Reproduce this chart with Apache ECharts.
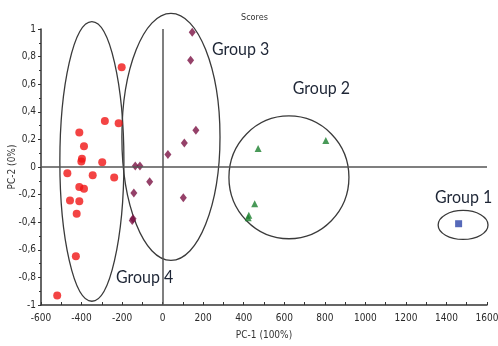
<!DOCTYPE html>
<html>
<head>
<meta charset="utf-8">
<script src="https://cdn.jsdelivr.net/npm/echarts@6/dist/echarts.min.js"></script>
<style>html,body{margin:0;padding:0;background:#fff}#c{width:498px;height:346px}</style>
</head>
<body>
<div id="c"></div>
<script>
// ---- data ----
const xTicks = [-600, -400, -200, 0, 200, 400, 600, 800, 1000, 1200, 1400, 1600];
const yTicks = [-1, -0.8, -0.6, -0.4, -0.2, 0, 0.2, 0.4, 0.6, 0.8, 1];

const group4Points = [
  [-202, 0.722], [-411, 0.25], [-285, 0.334], [-217, 0.317], [-388, 0.15],
  [-401, 0.04], [-398, 0.06], [-298, 0.034], [-470, -0.046], [-345, -0.06], [-239, -0.076],
  [-411, -0.145], [-388, -0.157], [-457, -0.242], [-411, -0.249], [-424, -0.338],
  [-428, -0.646], [-520, -0.932]
];
const group3Points = [
  [146, 0.976], [138, 0.773], [164, 0.267], [107, 0.174], [26, 0.09],
  [-135, 0.007], [-112, 0.007], [-64, -0.106], [-142, -0.189], [102, -0.222],
  [-150, -0.387], [-146, -0.375]
];
const group2Points = [[471, 0.134], [805, 0.192], [454, -0.266], [422, -0.367], [425, -0.35]];
const group1Points = [[1460, -0.411]];

const groupNames = ['Group 1', 'Group 2', 'Group 3', 'Group 4'];
const ellipseCenters = [[1482, -0.42], [623, -0.075], [41, 0.218], [-349, 0.04]];
const ellipseRadii = [[123, 0.105], [296, 0.445], [242, 0.895], [158, 1.013]];
const labelAnchors = [[1343, -0.22], [642, 0.571], [243, 0.85], [-230, -0.80]];

// ---- chart ----
const chart = echarts.init(document.getElementById('c'));
const tickFont = '"DejaVu Sans Condensed", "Liberation Sans Narrow", sans-serif';
const ellipseData = ellipseCenters.map((c, i) => [c[0], c[1], ellipseRadii[i][0], ellipseRadii[i][1]]);
const labelData = labelAnchors.map((p, i) => [p[0], p[1], i]);

chart.setOption({
  animation: false,
  backgroundColor: '#fff',
  title: {
    text: 'Scores', left: 236, top: 8,
    textStyle: { fontSize: 9, fontWeight: 'normal', color: '#333', fontFamily: tickFont }
  },
  grid: { left: 41, right: 11, top: 29, bottom: 41, containLabel: false, outerBoundsMode: 'none' },
  xAxis: {
    type: 'value', min: -600, max: 1600, interval: 200,
    name: 'PC-1 (100%)', nameLocation: 'middle', nameGap: 25, nameMoveOverlap: false,
    nameTextStyle: { fontSize: 10, color: '#333', fontFamily: tickFont },
    axisLine: { onZero: false, lineStyle: { color: '#333', width: 1.5 } },
    axisTick: { show: true, inside: true, length: 3, lineStyle: { color: '#333' } },
    minorTick: { show: true, splitNumber: 2, length: 3, lineStyle: { color: '#333' } },
    splitLine: { show: false },
    axisLabel: {
      fontSize: 10, color: '#2a2a2a', fontFamily: tickFont, margin: 8,
      formatter: v => String(v)
    }
  },
  yAxis: {
    type: 'value', min: -1, max: 1, interval: 0.2,
    name: 'PC-2 (0%)', nameLocation: 'middle', nameGap: 24, nameMoveOverlap: false,
    nameTextStyle: { fontSize: 10, color: '#333', fontFamily: tickFont },
    axisLine: { show: true, onZero: false, lineStyle: { color: '#333', width: 1.5 } },
    axisTick: { show: true, length: 3, lineStyle: { color: '#333' } },
    minorTick: { show: true, splitNumber: 2, length: 2, lineStyle: { color: '#333' } },
    splitLine: { show: false },
    axisLabel: {
      fontSize: 10, color: '#2a2a2a', fontFamily: tickFont, margin: 5,
      formatter: v => String(Math.round(v * 10) / 10).replace('.', ',')
    }
  },
  series: [
    {
      type: 'custom', name: 'ellipses', silent: true, clip: false, z: 1,
      encode: { x: 0, y: 1 },
      data: ellipseData,
      renderItem: (params, api) => {
        const c = api.coord([api.value(0), api.value(1)]);
        const s = api.size([api.value(2), api.value(3)]);
        return {
          type: 'ellipse',
          shape: { cx: c[0], cy: c[1], rx: s[0], ry: s[1] },
          style: { fill: 'none', stroke: '#3a3a3a', lineWidth: 1.3 }
        };
      }
    },
    {
      type: 'scatter', name: 'Group 4', symbol: 'circle', symbolSize: 8,
      itemStyle: { color: '#f01515' }, data: group4Points, z: 3,
      markLine: {
        silent: true, symbol: ['none', 'none'], label: { show: false },
        lineStyle: { color: '#555', width: 1.5, type: 'solid' },
        data: [{ xAxis: 0 }, { yAxis: 0 }]
      }
    },
    {
      type: 'scatter', name: 'Group 3', symbol: 'diamond', symbolSize: [7, 9],
      itemStyle: { color: '#7a1244' }, data: group3Points, z: 3
    },
    {
      type: 'scatter', name: 'Group 2', symbol: 'triangle', symbolSize: 7,
      itemStyle: { color: '#1b7f2e' }, data: group2Points, z: 3
    },
    {
      type: 'scatter', name: 'Group 1', symbol: 'rect', symbolSize: 7,
      itemStyle: { color: '#2c44a8' }, data: group1Points, z: 3
    },
    {
      type: 'custom', name: 'labels', silent: true, clip: false, z: 4,
      encode: { x: 0, y: 1 },
      data: labelData,
      renderItem: (params, api) => {
        const c = api.coord([api.value(0), api.value(1)]);
        return {
          type: 'text', x: c[0], y: c[1], scaleX: 0.94,
          style: {
            text: groupNames[api.value(2)], fill: '#1e2636',
            font: '17px Lato, sans-serif',
            verticalAlign: 'middle', align: 'left'
          }
        };
      }
    }
  ]
});
</script>
</body>
</html>
